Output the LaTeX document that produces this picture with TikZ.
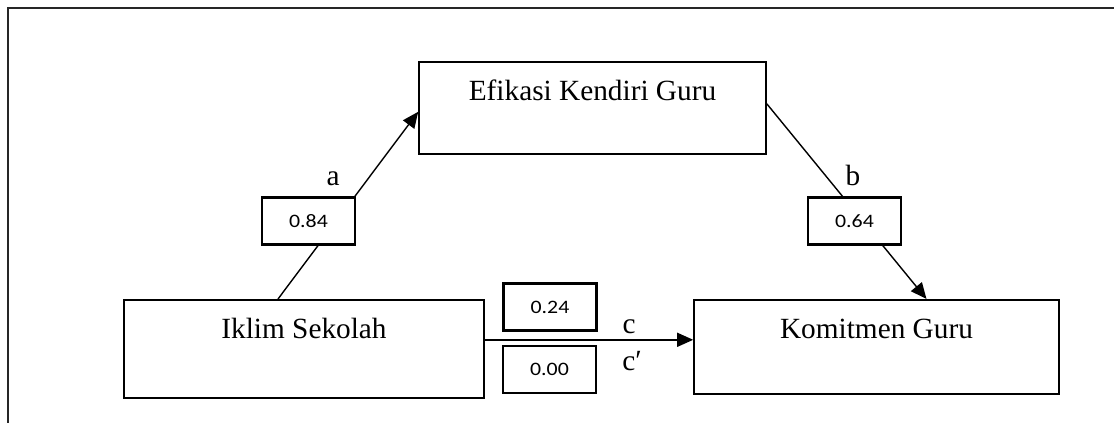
\documentclass[tikz,border=0pt]{standalone}
\usepackage{fontspec}
\setmainfont{Liberation Serif}
\newfontfamily\numfont[FakeStretch=1.15]{Carlito}
\usetikzlibrary{arrows.meta}

\begin{document}
\begin{tikzpicture}[x=1pt,y=-1pt,
  var/.style={draw,line width=1.6pt,inner sep=0pt,anchor=north,text height=39pt,font=\fontsize{29.3}{35}\selectfont},
  coef/.style={draw,line width=2.2pt,fill=white,inner sep=0pt,minimum width=93pt,minimum height=47pt,font=\numfont\fontsize{19}{23}\selectfont},
  arr/.style={line width=1.4pt,-{Triangle[length=16pt,width=14pt]}},
  lbl/.style={anchor=base,inner sep=0pt,font=\fontsize{29.3}{35}\selectfont}]
\useasboundingbox (0,0) rectangle (1114,423);
\draw[line width=1.5pt,black!85] (1114,8) -- (8,8) -- (8,423);

\node[var,minimum width=347pt,text depth=53pt] (ef) at (592.5,61) {Efikasi Kendiri Guru};
\node[var,minimum width=360pt,text depth=59pt] (ik) at (304,299) {Iklim Sekolah};
\node[var,minimum width=365pt,text depth=55pt] (ko) at (876.5,299) {Komitmen Guru};

\draw[arr] ([xshift=-26pt]ik.north) -- ([yshift=-4pt]ef.west);
\draw[arr] ([yshift=4pt]ef.east) -- ([xshift=50pt]ko.north);
\draw[arr] ([yshift=9pt]ik.east) -- ([yshift=7pt]ko.west);

\node[coef] (pa) at (308.5,221) {0.84};
\node[coef] (pb) at (854.5,221) {0.64};
\node[coef] (pc) at (550,307) {0.24};
\node[coef] (pd) at (549.5,369.5) {0.00};

\node[lbl] (la) at (333,185) {a};
\node[lbl] (lb) at (853,185) {b};
\node[lbl] (lc) at (629,333) {c};
\node[lbl] (ld) at (632,370) {c′};
\end{tikzpicture}
\end{document}
